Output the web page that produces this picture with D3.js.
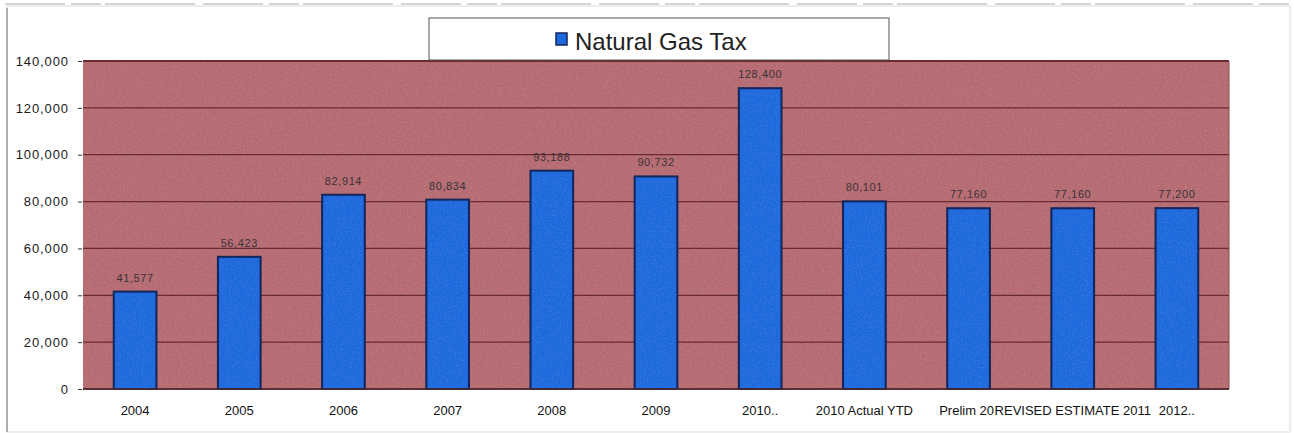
<!DOCTYPE html>
<html>
<head>
<meta charset="utf-8">
<script src="https://cdn.jsdelivr.net/npm/d3@7/dist/d3.min.js"></script>
<style>
  html, body { margin: 0; padding: 0; background: #ffffff; }
  svg { display: block; }
  text { font-family: "Liberation Sans", Arial, sans-serif; }
</style>
</head>
<body>
<svg id="chart" width="1294" height="433"></svg>
<script>
const categories = ["2004", "2005", "2006", "2007", "2008", "2009", "2010..",
  "2010 Actual YTD", "Prelim 20", "REVISED ESTIMATE 2011", "2012.."];
const values = [41577, 56423, 82914, 80834, 93188, 90732, 128400, 80101, 77160, 77160, 77200];
const valueLabels = ["41,577", "56,423", "82,914", "80,834", "93,188", "90,732", "128,400",
  "80,101", "77,160", "77,160", "77,200"];
const yTicks = [0, 20000, 40000, 60000, 80000, 100000, 120000, 140000];
const seriesName = "Natural Gas Tax";

const svg = d3.select("#chart");
const plot = { left: 83, right: 1229, top: 61, bottom: 389 };

const pink = "#b56a71", grid = "#6a2a31", blue = "#1d68dc", navy = "#13265a";

// defs: grain texture
const defs = svg.append("defs");
const f = defs.append("filter").attr("id", "grain").attr("x", 0).attr("y", 0).attr("width", 1).attr("height", 1);
f.append("feTurbulence").attr("type", "fractalNoise").attr("baseFrequency", 0.55).attr("numOctaves", 2).attr("seed", 4).attr("result", "n");
f.append("feColorMatrix").attr("in", "n").attr("type", "matrix")
  .attr("values", "0 0 0 0 1  0 0 0 0 1  0 0 0 0 1  0.9 0 0 0 -0.35").attr("result", "w");
f.append("feComposite").attr("in", "w").attr("in2", "SourceGraphic").attr("operator", "in");

// outer frame
svg.append("rect").attr("x", 7).attr("y", 6).attr("width", 1283).attr("height", 426)
  .attr("fill", "#fff").attr("stroke", "#dcdcdc").attr("stroke-width", 1);
svg.append("line").attr("x1", 7).attr("x2", 7).attr("y1", 8).attr("y2", 432)
  .attr("stroke", "#9a9a9a").attr("stroke-width", 1.5);
svg.append("line").attr("x1", 5).attr("x2", 1290).attr("y1", 4).attr("y2", 4)
  .attr("stroke", "#8a8a8a").attr("stroke-width", 1.2).attr("opacity", 0.7)
  .attr("stroke-dasharray", "60,6,30,4,90,8");

const x = d3.scaleBand().domain(categories).range([plot.left, plot.right]).padding(0);
const y = d3.scaleLinear().domain([0, 140000]).range([plot.bottom, plot.top]);

// plot background
svg.append("rect").attr("x", plot.left).attr("y", plot.top)
  .attr("width", plot.right - plot.left).attr("height", plot.bottom - plot.top)
  .attr("fill", pink);
svg.append("rect").attr("x", plot.left).attr("y", plot.top)
  .attr("width", plot.right - plot.left).attr("height", plot.bottom - plot.top)
  .attr("fill", pink).attr("filter", "url(#grain)").attr("opacity", 0.25);

// gridlines
svg.append("g").selectAll("line").data(yTicks).join("line")
  .attr("x1", plot.left).attr("x2", plot.right)
  .attr("y1", d => y(d)).attr("y2", d => y(d))
  .attr("stroke", grid).attr("stroke-width", d => d === 140000 ? 2 : 1.3);

// right edge of plot
svg.append("line").attr("x1", plot.right).attr("x2", plot.right)
  .attr("y1", plot.top).attr("y2", plot.bottom).attr("stroke", "#8a4a50").attr("stroke-width", 1);

// y axis
const yAxis = d3.axisLeft(y).tickValues(yTicks).tickSize(4).tickPadding(9)
  .tickFormat(d3.format(","));
const gy = svg.append("g").attr("transform", `translate(${plot.left - 1},0)`).call(yAxis);
gy.select(".domain").remove();
gy.selectAll(".tick line").attr("stroke", "#333");
gy.selectAll(".tick text").attr("font-size", 13).attr("fill", "#1a1a1a")
  .attr("letter-spacing", 0.9).attr("font-family", "'Liberation Sans', Arial, sans-serif");

// bars
const bw = x.bandwidth() * 0.41;
svg.append("g").selectAll("rect").data(values).join("rect")
  .attr("x", (d, i) => x(categories[i]) + (x.bandwidth() - bw) / 2)
  .attr("y", d => y(d))
  .attr("width", bw)
  .attr("height", d => y(0) - y(d))
  .attr("fill", blue).attr("stroke", navy).attr("stroke-width", 2);
svg.append("g").selectAll("rect").data(values).join("rect")
  .attr("x", (d, i) => x(categories[i]) + (x.bandwidth() - bw) / 2 + 2)
  .attr("y", d => y(d) + 2)
  .attr("width", bw - 4)
  .attr("height", d => y(0) - y(d) - 3)
  .attr("fill", "#3a80e8").attr("filter", "url(#grain)").attr("opacity", 0.25);

// bottom axis line
svg.append("line").attr("x1", plot.left).attr("x2", plot.right)
  .attr("y1", plot.bottom).attr("y2", plot.bottom).attr("stroke", "#4a2a2e").attr("stroke-width", 1.5);

// value labels
svg.append("g").selectAll("text").data(values).join("text")
  .attr("x", (d, i) => x(categories[i]) + x.bandwidth() / 2)
  .attr("y", d => y(d) - 10)
  .attr("text-anchor", "middle")
  .attr("font-size", 11).attr("letter-spacing", 0.6)
  .attr("fill", "#3a3238")
  .text((d, i) => valueLabels[i]);

// x axis labels; a label that would run into the next one is pushed left to end where it starts
const xl = svg.append("g");
const labelNodes = categories.map(c => xl.append("text")
  .attr("x", x(c) + x.bandwidth() / 2)
  .attr("y", 415)
  .attr("text-anchor", "middle")
  .attr("font-size", 13).attr("fill", "#111")
  .text(c));
for (let i = labelNodes.length - 2; i >= 0; i--) {
  const a = labelNodes[i].node().getBBox();
  const b = labelNodes[i + 1].node().getBBox();
  const overlap = a.x + a.width - b.x;
  if (overlap > 0) {
    labelNodes[i].attr("x", +labelNodes[i].attr("x") - overlap - 0.5);
  }
}

// legend
const lg = svg.append("g");
lg.append("rect").attr("x", 429).attr("y", 18).attr("width", 460).attr("height", 42)
  .attr("fill", "#fff").attr("stroke", "#555").attr("stroke-width", 1);
lg.append("rect").attr("x", 556).attr("y", 33).attr("width", 11).attr("height", 12)
  .attr("fill", blue).attr("stroke", navy).attr("stroke-width", 1.5);
lg.append("text").attr("x", 575).attr("y", 50).attr("font-size", 24).attr("fill", "#222")
  .text(seriesName);
</script>
</body>
</html>
